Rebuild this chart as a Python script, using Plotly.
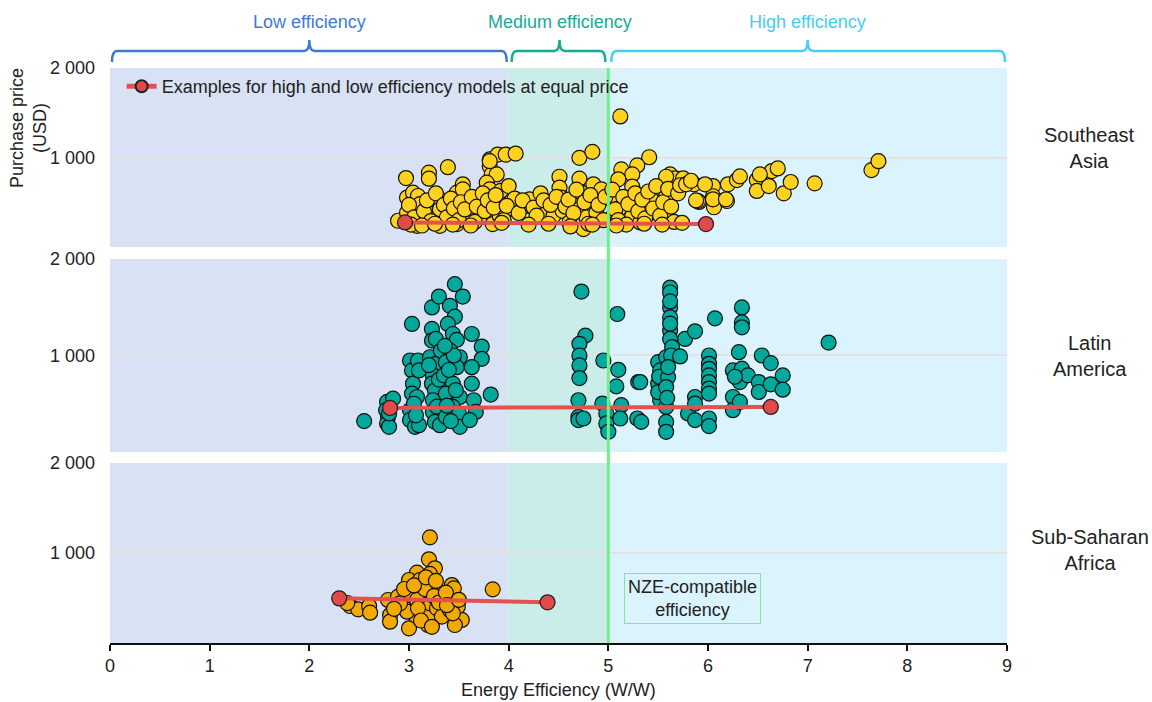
import plotly.graph_objects as go

# ---------------- data ----------------
sea_x = [2.97, 3.20, 3.20, 3.39, 3.81, 3.81, 3.83, 3.88, 3.89, 3.97, 4.07, 3.78, 3.81, 4.71, 4.84, 4.51, 4.71,
         5.12, 5.41, 5.29, 5.13, 5.24, 5.10, 5.62, 5.67, 5.75, 5.58, 5.86, 5.91, 6.05, 6.05, 6.06, 6.19, 6.20,
         6.29, 6.32, 6.49, 6.49, 6.61, 6.64, 6.70, 6.76, 6.83, 7.07, 7.64, 7.71,
         2.89, 2.98, 2.98, 3.04, 3.08, 3.09, 3.09, 3.11, 3.11, 3.24, 3.29, 3.31, 3.31, 3.31, 3.48, 3.48, 3.54,
         3.54, 3.58, 3.61, 3.71, 3.71, 3.78, 3.81, 3.84, 3.91, 3.91, 3.92, 4.00, 4.05, 4.06, 4.18, 4.21, 4.32,
         4.38, 4.45, 4.51, 4.53, 4.54, 4.61, 4.71, 4.73, 4.75, 4.78, 4.85, 4.88, 4.93, 5.02, 5.05, 5.12, 5.24,
         5.24, 5.24, 5.32, 5.43, 5.58, 5.58, 5.90, 6.05, 6.18,
         3.00, 3.05, 3.15, 3.18, 3.22, 3.27, 3.35, 3.38, 3.42, 3.45, 3.50, 3.52, 3.56, 3.63, 3.66, 3.68, 3.74,
         3.76, 3.79, 3.85, 3.87, 3.95, 3.98, 4.10, 4.14, 4.25, 4.28, 4.35, 4.42, 4.48, 4.57, 4.60, 4.65, 4.68,
         4.76, 4.80, 4.82, 4.90, 4.95, 4.97, 5.04, 5.07, 5.10, 5.15, 5.18, 5.20, 5.27, 5.30, 5.34, 5.37, 5.40,
         5.45, 5.48, 5.52, 5.55, 5.60, 5.63, 5.66, 5.70, 5.72, 5.78, 5.83, 5.88, 5.97, 6.52,
         3.02, 3.13, 3.26, 3.44, 3.62, 3.93, 4.20, 4.40, 4.62, 4.84, 5.08, 5.36, 5.54, 5.74]
sea_y = [770, 830, 763, 892, 978, 903, 811, 811, 1033, 1033, 1044, 719, 959, 996, 1063, 785, 763,
         1459, 1003, 911, 867, 811, 756, 811, 767, 767, 785, 700, 503, 681, 567, 444, 514, 700,
         748, 789, 748, 626, 681, 848, 878, 600, 726, 711, 859, 959,
         293, 385, 552, 607, 237, 570, 452, 478, 311, 533, 552, 404, 422, 237, 607, 256, 700,
         644, 348, 385, 496, 330, 330, 644, 256, 348, 496, 626, 681, 422, 541, 459, 533, 600,
         404, 348, 663, 552, 404, 274, 422, 607, 200, 330, 700, 385, 644, 533, 348, 441, 674,
         478, 348, 274, 533, 570, 348, 514, 533, 533,
         470, 330, 400, 520, 290, 600, 470, 330, 540, 430, 300, 500, 420, 560, 280, 450, 600,
         400, 520, 440, 580, 300, 460, 380, 520, 440, 350, 520, 470, 560, 450, 530, 380, 640,
         500, 260, 580, 470, 300, 560, 640, 420, 300, 560, 250, 480, 600, 400, 530, 320, 620,
         430, 680, 350, 500, 650, 450, 280, 600, 690, 700, 740, 520, 700, 811,
         250, 240, 260, 250, 240, 270, 250, 260, 230, 250, 240, 260, 250, 270]

lat_x = [2.55, 2.78, 2.77, 2.79, 2.78, 2.80, 2.84, 2.80,
         3.03, 3.01, 3.03, 3.04, 3.03, 3.01, 3.01, 3.06, 3.10, 3.09, 3.08, 3.10, 3.05, 3.07,
         3.23, 3.30, 3.23, 3.23, 3.27, 3.21, 3.27, 3.24, 3.23, 3.26, 3.24, 3.24, 3.26, 3.31, 3.20, 3.28, 3.30, 3.32,
         3.41, 3.46, 3.54, 3.46, 3.39, 3.44, 3.48, 3.41, 3.37, 3.51, 3.48, 3.35, 3.44, 3.37, 3.51, 3.44, 3.50,
         3.37, 3.51, 3.40, 3.45, 3.38, 3.47, 3.42, 3.36,
         3.63, 3.73, 3.73, 3.63, 3.63, 3.65, 3.67, 3.61, 3.82,
         4.73, 4.77, 4.71, 4.71, 4.71, 4.71, 4.70, 4.70, 4.70, 4.75, 4.95, 4.94, 4.98, 4.98, 5.00,
         5.09, 5.10, 5.08, 5.13, 5.12, 5.30, 5.32, 5.29, 5.33,
         5.50, 5.52, 5.50, 5.52, 5.50, 5.51,
         5.62, 5.62, 5.62, 5.62, 5.62, 5.62, 5.64, 5.58, 5.60, 5.58, 5.58, 5.58, 5.58, 5.62, 5.62, 5.63, 5.60, 5.59,
         5.72, 5.77, 5.87, 6.07, 5.80, 5.87, 5.87, 5.87,
         6.01, 6.01, 6.01, 6.01, 6.01, 6.01, 6.01, 6.01, 6.01,
         6.31, 6.25, 6.25, 6.25, 6.32, 6.32, 6.34, 6.34, 6.34, 6.34, 6.40, 6.54, 6.51, 6.51, 6.63, 6.63,
         6.75, 6.75, 7.21, 6.27]
lat_y = [320, 519, 433, 364, 296, 261, 553, 400,
         1327, 948, 845, 708, 605, 433, 330, 261, 278, 948, 570, 845, 500, 380,
         1498, 1611, 1275, 1155, 1172, 982, 914, 794, 708, 639, 536, 415, 312, 278, 900, 470, 750, 1050,
         1515, 1739, 1611, 1402, 1327, 1223, 1162, 1052, 931, 982, 879, 794, 708, 605, 570, 467, 399,
         364, 261, 850, 1000, 480, 640, 320, 1100,
         1223, 1093, 966, 879, 708, 536, 415, 330, 595,
         1663, 1206, 1121, 1000, 897, 766, 536, 364, 330, 347, 948, 502, 399, 296, 209,
         1430, 852, 680, 485, 347, 725, 725, 347, 312,
         931, 845, 708, 536, 620, 780,
         1704, 1653, 1498, 1395, 1258, 1172, 1086, 982, 776, 673, 467, 312, 209, 1330, 1560, 1000, 880, 560,
         990, 1172, 1251, 1385, 399, 570, 502, 330,
         1000, 914, 862, 794, 725, 657, 605, 347, 268,
         1034, 845, 570, 433, 519, 725, 863, 1498, 1343, 1292, 794, 1000, 725, 622, 921, 701,
         794, 646, 1134, 780]

ssa_x = [2.41, 2.49, 2.60, 2.61, 2.38, 2.79, 2.81, 2.81, 2.89, 2.94, 3.00, 3.06, 3.01, 3.13, 3.14, 3.19,
         3.21, 3.21, 3.28, 3.33, 3.34, 3.41, 3.46, 3.48, 3.53, 3.46, 3.49, 2.98, 2.91, 3.08, 3.09,
         3.21, 3.20, 3.26, 3.21, 3.08, 3.00, 3.11, 3.21, 3.43, 3.45, 3.84,
         2.85, 3.16, 3.25, 3.30, 3.37, 3.44, 3.12, 3.23, 2.95, 3.05, 3.17, 3.27, 3.38, 3.50]
ssa_y = [411, 374, 411, 337, 444, 478, 311, 237, 515, 422, 163, 311, 533, 515, 385, 200,
         311, 441, 385, 293, 496, 367, 459, 274, 256, 200, 404, 348, 441, 478, 385,
         1174, 930, 830, 767, 781, 700, 700, 589, 644, 607, 596,
         380, 600, 520, 450, 560, 330, 250, 180, 600, 640, 730, 690, 420, 480]

# examples of equal-price pairs (low, high efficiency)
sea_pair_x = [2.96, 5.98]
sea_pair_y = [275, 256]
lat_pair_x = [2.81, 6.63]
lat_pair_y = [457, 467]
ssa_pair_x = [2.30, 4.39]
ssa_pair_y = [496, 452]

regions = ["Southeast<br>Asia", "Latin<br>America", "Sub-Saharan<br>Africa"]
x_ticks = [0, 1, 2, 3, 4, 5, 6, 7, 8, 9]
y_ticks = [0, 1000, 2000]
y_ticktext = ["", "1 000", "2 000"]

bands = [("Low efficiency", 0, 4, "#d8e2f4", "#3b7bd6"),
         ("Medium efficiency", 4, 5, "#cbede9", "#17a997"),
         ("High efficiency", 5, 9, "#daf3fc", "#45cdf5")]

# ---------------- figure ----------------
FONT = "Arial, Liberation Sans, sans-serif"
fig = go.Figure()

colors = ["#ffd21f", "#00a99b", "#f2a900"]
scatters = [(sea_x, sea_y), (lat_x, lat_y), (ssa_x, ssa_y)]
pairs = [(sea_pair_x, sea_pair_y), (lat_pair_x, lat_pair_y), (ssa_pair_x, ssa_pair_y)]
yaxes = ["y", "y2", "y3"]

for i in range(3):
    fig.add_trace(go.Scatter(
        x=scatters[i][0], y=scatters[i][1], xaxis="x", yaxis=yaxes[i], mode="markers",
        marker=dict(size=15, color=colors[i], line=dict(color="#111", width=1.2)),
        showlegend=False, hoverinfo="skip"))

for i in range(3):
    fig.add_trace(go.Scatter(
        x=pairs[i][0], y=pairs[i][1], xaxis="x", yaxis=yaxes[i], mode="lines+markers",
        line=dict(color="#e55151", width=4),
        marker=dict(size=15, color="#e24a4a", line=dict(color="#222", width=1.3)),
        name="Examples for high and low efficiency models at equal price",
        showlegend=(i == 0), hoverinfo="skip"))

domains = [[0.6887, 1.0], [0.3322, 0.6678], [0.0, 0.3130]]
layout_axes = {}
for i, key in enumerate(["yaxis", "yaxis2", "yaxis3"]):
    layout_axes[key] = dict(
        domain=domains[i], range=[0, 2000], anchor="x", automargin=False,
        tickvals=y_ticks, ticktext=y_ticktext, showgrid=True,
        gridcolor="#e2e2e2", gridwidth=1.5, zeroline=False, showline=False,
        ticks="", ticklabelstandoff=14,
        tickfont=dict(size=18, color="#222", family=FONT), fixedrange=True)

shapes = []
for yk in ["y", "y2", "y3"]:
    for (_, x0, x1, fill, _) in bands:
        shapes.append(dict(type="rect", xref="x", yref=f"{yk} domain", x0=x0, x1=x1, y0=0, y1=1,
                           fillcolor=fill, line=dict(width=0), layer="below"))

# green NZE line
shapes.append(dict(type="line", xref="x", yref="paper", x0=5, x1=5, y0=0, y1=1,
                   line=dict(color="#6ff08c", width=3), layer="above"))

# brackets
yb, yh, yt = 1.0104, 1.0296, 1.0487
br = [(0.02, 3.98, 2.0), (4.03, 4.97, 4.51), (5.03, 8.98, 7.0)]
for (lbl, _, _, _, col), (a, b, c) in zip(bands, br):
    d = 0.05
    path = (f"M {a},{yb} Q {a},{yh} {a+d},{yh} L {c-d},{yh} Q {c},{yh} {c},{yt} "
            f"Q {c},{yh} {c+d},{yh} L {b-d},{yh} Q {b},{yh} {b},{yb}")
    shapes.append(dict(type="path", xref="x", yref="paper", path=path,
                       line=dict(color=col, width=2.5)))

annotations = []
for (lbl, _, _, _, col), (a, b, c) in zip(bands, br):
    annotations.append(dict(x=c, y=1.08, xref="x", yref="paper", text=lbl, showarrow=False,
                            xanchor="center", yanchor="middle",
                            font=dict(size=18, color=col, family=FONT)))

region_y = [0.861, 0.499, 0.162]
for r, yy in zip(regions, region_y):
    annotations.append(dict(x=1.0925, y=yy, xref="paper", yref="paper", text=r, showarrow=False,
                            xanchor="center", yanchor="middle",
                            font=dict(size=20, color="#222", family=FONT)))

annotations.append(dict(x=-0.0903, y=0.8957, xref="paper", yref="paper",
                        text="Purchase price<br>(USD)", textangle=-90, showarrow=False,
                        xanchor="center", yanchor="middle",
                        font=dict(size=18, color="#222", family=FONT)))

annotations.append(dict(x=0.5, y=-0.0817, xref="paper", yref="paper",
                        text="Energy Efficiency (W/W)", showarrow=False,
                        xanchor="center", yanchor="middle",
                        font=dict(size=18, color="#222", family=FONT)))

annotations.append(dict(x=5.84, y=500, xref="x", yref="y3", text="NZE-compatible<br>efficiency",
                        showarrow=False, bordercolor="#7ee89a", borderwidth=1, borderpad=3,
                        xanchor="center", yanchor="middle",
                        font=dict(size=18, color="#222", family=FONT)))

fig.update_layout(
    width=1152, height=702,
    margin=dict(l=110, r=145, t=68, b=59),
    paper_bgcolor="white", plot_bgcolor="white",
    font=dict(family=FONT, color="#222"),
    xaxis=dict(domain=[0, 1], range=[0, 9], anchor="y3", tickvals=x_ticks, automargin=False,
               showgrid=False, zeroline=False, showline=True, linecolor="#111", linewidth=1.5,
               ticks="outside", ticklen=6, tickcolor="#111", tickwidth=1.5,
               tickfont=dict(size=18, color="#222", family=FONT), fixedrange=True),
    **layout_axes,
    shapes=shapes,
    annotations=annotations,
    showlegend=True,
    legend=dict(x=0.013, y=1.0, xanchor="left", yanchor="top", bgcolor="rgba(0,0,0,0)",
                font=dict(size=18, color="#222", family=FONT), itemsizing="constant"),
)

fig.write_html("out.html", config={"displayModeBar": False},
               post_script="document.body.style.margin='0px';")
